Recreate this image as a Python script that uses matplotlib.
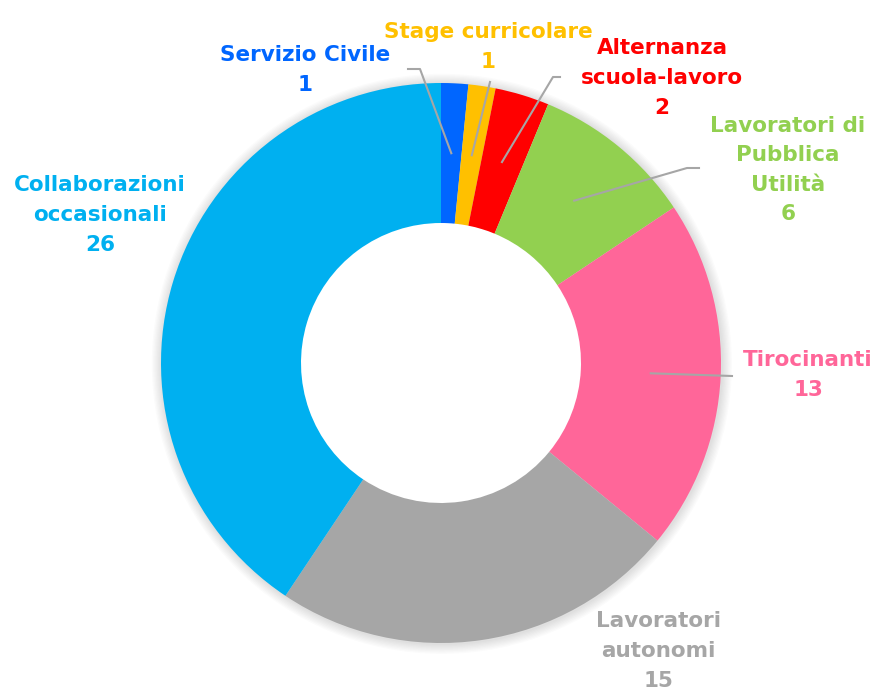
import numpy as np
import matplotlib
matplotlib.use("Agg")
import matplotlib.pyplot as plt
from matplotlib.patches import Circle

categories = ["Servizio Civile", "Stage curricolare", "Alternanza\nscuola-lavoro",
              "Lavoratori di\nPubblica\nUtilità", "Tirocinanti",
              "Lavoratori\nautonomi", "Collaborazioni\noccasionali"]
values = [1, 1, 2, 6, 13, 15, 26]
colors = ["#0066FF", "#FFC000", "#FF0000", "#92D050", "#FF6699", "#A6A6A6", "#00B0F0"]

W, H = 880, 690
fig = plt.figure(figsize=(W / 100, H / 100), dpi=100)
cx, cy, R = 441, 363, 280
ax = fig.add_axes([0, 0, 1, 1])

wedges, _ = ax.pie(values, colors=colors, startangle=90, counterclock=False,
                   radius=1.0, wedgeprops=dict(width=0.5, linewidth=0),
                   normalize=True)
for w in wedges:
    w.set_zorder(2)

# map axes to pixel space: data units = R pixels
ax.set_xlim(-cx / R, (W - cx) / R)
ax.set_ylim(-(H - cy) / R, cy / R)
ax.set_aspect("auto")
ax.axis("off")

# soft shadow around ring
n = 8
for i in range(n):
    ax.add_patch(Circle((0.003, -0.003), 1.0 + 0.0045 * (n - i), color="black",
                        alpha=0.016, lw=0, zorder=0))
ax.add_patch(Circle((0, 0), 0.5, color="white", zorder=1))

def px2data(x, y):
    return ((x - cx) / R, (cy - y) / R)

# label text positions (pixels) and leader line definitions
label_pos = [(305, 70), (488, 47), (662, 78), (788, 170), (808, 375), (658, 651), (100, 215)]
line_elbow = [(408, 69), (490, 82), (560, 77), (699, 168), (732, 376), None, None]
line_start = [(420, 69), None, (553, 77), (687, 168), None, None, None]
line_end_r = [0.75, 0.75, 0.75, 0.75, 0.75, None, None]

total = sum(values)
cum = 0
for i, (cat, v) in enumerate(zip(categories, values)):
    mid = 90 - 360 * (cum + v / 2) / total
    cum += v
    lx, ly = label_pos[i]
    tx, ty = px2data(lx, ly)
    ax.text(tx, ty, f"{cat}\n{v}", ha="center", va="center", color=colors[i],
            fontsize=15.5, fontweight="bold", family="DejaVu Sans",
            linespacing=1.6, zorder=5)
    if line_end_r[i] is not None:
        r = line_end_r[i]
        ex, ey = r * np.cos(np.radians(mid)), r * np.sin(np.radians(mid))
        pts = [px2data(*line_elbow[i])]
        if line_start[i] is not None:
            pts.append(px2data(*line_start[i]))
        pts.append((ex, ey))
        xs, ys = zip(*pts)
        ax.plot(xs, ys, color="#A6A6A6", lw=1.5, zorder=4)

fig.savefig("out.png", dpi=100, facecolor="white")
